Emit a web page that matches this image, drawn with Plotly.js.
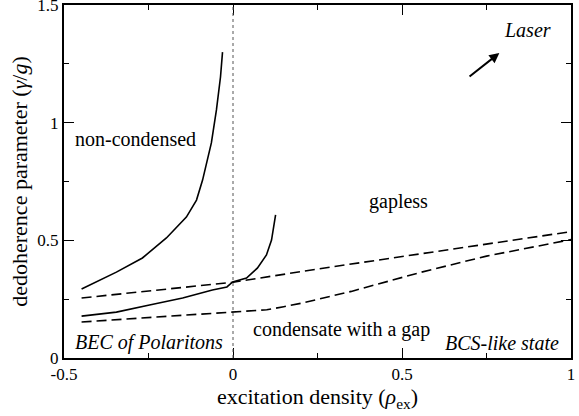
<!DOCTYPE html>
<html>
<head>
<meta charset="utf-8">
<script src="https://cdn.plot.ly/plotly-3.0.1.min.js"></script>
<style>
.js-plotly-plot .main-svg text { font-family: 'Liberation Serif', 'DejaVu Serif', 'Times New Roman', Times, serif !important; }
</style>
</head>
<body style="margin:0;background:#fff">
<div id="chart" style="width:579px;height:416px"></div>
<script>
// Upper solid curve: boundary of the non-condensed region
const nonCondX = [-0.448, -0.345, -0.268, -0.197, -0.138, -0.108, -0.090, -0.064, -0.049, -0.037, -0.031];
const nonCondY = [0.293, 0.365, 0.425, 0.510, 0.599, 0.671, 0.756, 0.914, 1.054, 1.194, 1.300];
// Lower solid curve: gapless boundary
const gaplessX = [-0.448, -0.345, -0.247, -0.149, -0.061, -0.018, -0.001, 0.040, 0.072, 0.099, 0.114, 0.126];
const gaplessY = [0.178, 0.195, 0.225, 0.255, 0.289, 0.302, 0.323, 0.340, 0.382, 0.438, 0.501, 0.608];
// Upper dashed curve
const dashUpX = [-0.448, -0.25, 0.0, 0.25, 0.5, 0.75, 1.0];
const dashUpY = [0.255, 0.284, 0.322, 0.378, 0.430, 0.483, 0.537];
// Lower dashed curve
const dashLowX = [-0.448, -0.25, -0.1, -0.03, 0.0, 0.05, 0.1, 0.15, 0.2, 0.35, 0.55, 0.75, 0.9, 1.0];
const dashLowY = [0.153, 0.172, 0.186, 0.193, 0.198, 0.200, 0.205, 0.218, 0.232, 0.283, 0.362, 0.433, 0.476, 0.503];

const xTickVals = [-0.5, 0, 0.5, 1];
const xTickText = ['-0.5', '0', '0.5', '1'];
const yTickVals = [0, 0.5, 1, 1.5];
const yTickText = ['0', '0.5', '1', '1.5'];

const SERIF = 'Liberation Serif, DejaVu Serif, serif';

const traces = [
  {x: nonCondX, y: nonCondY, mode: 'lines', line: {color: 'black', width: 1.6}},
  {x: gaplessX, y: gaplessY, mode: 'lines', line: {color: 'black', width: 1.6}},
  {x: dashUpX, y: dashUpY, mode: 'lines', line: {color: 'black', width: 1.6, dash: '10px,5px'}},
  {x: dashLowX, y: dashLowY, mode: 'lines', line: {color: 'black', width: 1.6, dash: '10px,5px'}}
];

function axisBase() {
  return {
    showgrid: false, zeroline: false, showline: true, linecolor: 'black', linewidth: 2,
    mirror: 'ticks', ticks: 'inside', ticklen: 10, tickwidth: 1, tickcolor: 'black',
    ticklabeloverflow: 'allow',
    tickfont: {family: SERIF, size: 17, color: 'black'},
    minor: {dtick: 0.25, ticks: 'inside', ticklen: 5, tickwidth: 1, tickcolor: 'black', showgrid: false}
  };
}

const xax = axisBase();
xax.range = [-0.5, 1];
xax.tickmode = 'array'; xax.tickvals = xTickVals; xax.ticktext = xTickText;
xax.title = {text: 'excitation density (<i>ρ</i><sub>ex</sub>)', font: {family: SERIF, size: 22, color: 'black'}, standoff: 0};

const yax = axisBase();
yax.range = [0, 1.5];
yax.tickmode = 'array'; yax.tickvals = yTickVals; yax.ticktext = yTickText;
yax.title = {text: 'dedoherence parameter (<i>γ</i>/<i>g</i>)', font: {family: SERIF, size: 22, color: 'black'}, standoff: 4};

function note(x, y, text) {
  return {x: x, y: y, xref: 'x', yref: 'y', text: text, showarrow: false, font: {family: SERIF, size: 20, color: 'black'}};
}

const layout = {
  width: 579, height: 416,
  margin: {l: 64, r: 8, t: 5, b: 58},
  paper_bgcolor: 'white', plot_bgcolor: 'white',
  showlegend: false,
  hovermode: false,
  xaxis: xax,
  yaxis: yax,
  shapes: [
    {type: 'line', xref: 'x', yref: 'y', x0: 0, x1: 0, y0: 0, y1: 1.5, line: {color: '#555', width: 1, dash: 'dot'}}
  ],
  annotations: [
    note(-0.288, 0.931, 'non-condensed'),
    note(0.490, 0.663, 'gapless'),
    note(0.320, 0.123, 'condensate with a gap'),
    note(-0.25, 0.064, '<i>BEC of Polaritons</i>'),
    note(0.797, 0.064, '<i>BCS-like state</i>'),
    note(0.870, 1.394, '<i>Laser</i>'),
    {x: 0.788, y: 1.296, ax: 0.691, ay: 1.186, xref: 'x', yref: 'y', axref: 'x', ayref: 'y', text: ' ', showarrow: true, arrowhead: 2, arrowsize: 1, arrowwidth: 2, arrowcolor: 'black'}
  ]
};

Plotly.newPlot('chart', traces, layout, {displayModeBar: false});
</script>
</body>
</html>
